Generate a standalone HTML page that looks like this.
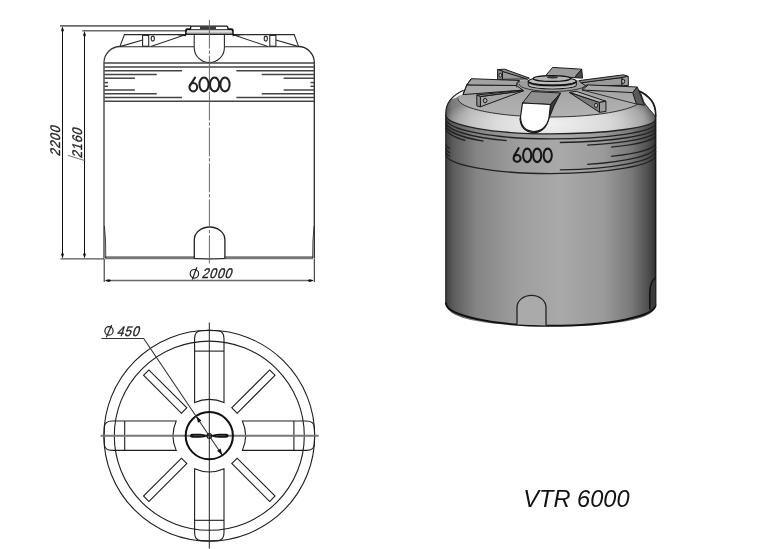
<!DOCTYPE html>
<html><head><meta charset="utf-8">
<style>
html,body{margin:0;padding:0;background:#fff;width:783px;height:549px;overflow:hidden}
svg{display:block}
text{font-family:"Liberation Sans",sans-serif}
</style></head>
<body>
<div style="will-change:transform;width:783px;height:549px">
<svg width="783" height="549" viewBox="0 0 783 549">
<defs>
 <linearGradient id="body" x1="445" y1="0" x2="656" y2="0" gradientUnits="userSpaceOnUse">
  <stop offset="0" stop-color="#3c3c3c"/>
  <stop offset="0.04" stop-color="#5c5c5c"/>
  <stop offset="0.15" stop-color="#858585"/>
  <stop offset="0.35" stop-color="#9e9e9e"/>
  <stop offset="0.55" stop-color="#a9a9a9"/>
  <stop offset="0.75" stop-color="#9a9a9a"/>
  <stop offset="0.88" stop-color="#7a7a7a"/>
  <stop offset="0.96" stop-color="#505050"/>
  <stop offset="1" stop-color="#333"/>
 </linearGradient>

 <linearGradient id="shbase" x1="445.8" y1="0" x2="655.6" y2="0" gradientUnits="userSpaceOnUse">
  <stop offset="0" stop-color="#555"/>
  <stop offset="0.03" stop-color="#7a7a7a"/>
  <stop offset="0.12" stop-color="#9a9a9a"/>
  <stop offset="0.5" stop-color="#b0b0b0"/>
  <stop offset="0.82" stop-color="#9a9a9a"/>
  <stop offset="0.94" stop-color="#7a7a7a"/>
  <stop offset="1" stop-color="#444"/>
 </linearGradient>
 <radialGradient id="shl" cx="552" cy="124" r="112" gradientUnits="userSpaceOnUse" gradientTransform="translate(552 124) scale(1 0.3) translate(-552 -124)">
  <stop offset="0" stop-color="#fff" stop-opacity="0.8"/>
  <stop offset="0.5" stop-color="#fff" stop-opacity="0.62"/>
  <stop offset="0.85" stop-color="#fff" stop-opacity="0.3"/>
  <stop offset="1" stop-color="#fff" stop-opacity="0.0"/>
 </radialGradient>
 <linearGradient id="topsurf" x1="0" y1="80" x2="0" y2="117" gradientUnits="userSpaceOnUse">
  <stop offset="0" stop-color="#9a9a9a"/>
  <stop offset="0.6" stop-color="#acacac"/>
  <stop offset="1" stop-color="#b2b2b2"/>
 </linearGradient>
</defs>

<!-- ============ FRONT ELEVATION ============ -->
<g id="front" fill="none" stroke="#2a2a2a" stroke-width="1.1">
 <!-- dimension lines -->
 <line x1="60" y1="25.9" x2="191" y2="25.9" stroke="#6a6a6a" stroke-width="1.6"/>
 <line x1="82.2" y1="30.7" x2="186.5" y2="30.7" stroke="#6a6a6a" stroke-width="1.6"/>
 <line x1="62.5" y1="28" x2="62.5" y2="256" stroke="#111" stroke-width="1"/>
 <line x1="84.5" y1="33" x2="84.5" y2="256" stroke="#111" stroke-width="1"/>
 <line x1="60.5" y1="258.9" x2="104" y2="258.9" stroke="#555" stroke-width="1.4"/>
 <line x1="104.2" y1="259" x2="104.2" y2="282" stroke="#222" stroke-width="1"/>
 <line x1="314.3" y1="259" x2="314.3" y2="282" stroke="#222" stroke-width="1"/>
 <line x1="106" y1="280.5" x2="312.5" y2="280.5" stroke="#6a6a6a" stroke-width="1.5"/>
 <!-- tank walls -->
 <path d="M104 258.6 V62.5 A16.2 16 0 0 1 120.2 46.5" stroke="#3a3a3a" stroke-width="1.3"/>
 <path d="M314.3 258.6 V62.5 A16 16 0 0 0 298.3 46.5" stroke-width="1.3"/>
 <line x1="120.2" y1="46.8" x2="194" y2="46.8"/>
 <line x1="224.5" y1="46.8" x2="298.3" y2="46.8"/>
 <!-- shoulders -->
 <path d="M119.9 46.6 L124.4 34.6 H186.5"/>
 <path d="M298.6 46.6 L294.2 34.6 H232.5"/>
 <path d="M119.9 46.6 L142.6 40"/>
 <path d="M150.8 46.4 L186 34.6"/>
 <path d="M298.6 46.6 L275.9 40"/>
 <path d="M267.8 46.4 L232.5 34.6"/>
 <rect x="142.6" y="35.4" width="6.1" height="10.8"/>
 <rect x="269.8" y="35.4" width="6.1" height="10.8"/>
 <ellipse cx="152.8" cy="38.6" rx="1.6" ry="2.5"/>
 <ellipse cx="265.8" cy="38.6" rx="1.6" ry="2.5"/>
 <!-- lid -->
 <path d="M186 35 V30.5 Q186 29.3 187.5 29.3 H231.3 Q232.8 29.3 232.8 30.5 V35" fill="#fff" stroke="#111" stroke-width="1.9"/>
 <line x1="186.5" y1="32.3" x2="232.3" y2="32.3" stroke="#c4c4c4" stroke-width="1.8"/>
 <line x1="185.5" y1="34.2" x2="233.3" y2="34.2" stroke="#222" stroke-width="1.4"/>
 <path d="M190.6 29.3 V27.2 Q190.6 26.2 191.8 26.2 H226.4 Q227.6 26.2 227.8 27.4 L228 29.3" fill="#fff" stroke="#111" stroke-width="1.3"/>
 <rect x="200" y="26.6" width="16" height="2.5" fill="#3a3a3a" stroke="none"/>
 <path d="M177 35.3 L186 34.4 L186 36.2 Z" fill="#222" stroke="none"/>
 <path d="M241.6 35.3 L232.6 34.4 L232.6 36.2 Z" fill="#222" stroke="none"/>
 <!-- manhole dome -->
 <path d="M194.2 34.8 V47.5 A15 15 0 0 0 224.4 47.5 V34.8"/>
 <!-- band lines -->
 <g stroke="#444" stroke-width="1.5">
  <line x1="104.2" y1="63.0" x2="314.3" y2="63.0"/>
  <line x1="104.2" y1="67.0" x2="314.3" y2="67.0"/>
  <line x1="104.2" y1="70.8" x2="182.1" y2="70.8"/>
  <line x1="236.4" y1="70.8" x2="314.3" y2="70.8"/>
  <line x1="104.2" y1="74.6" x2="156.8" y2="74.6"/>
  <line x1="261.7" y1="74.6" x2="314.3" y2="74.6"/>
  <line x1="104.2" y1="78.2" x2="134.9" y2="78.2"/>
  <line x1="283.6" y1="78.2" x2="314.3" y2="78.2"/>
  <line x1="104.2" y1="82.6" x2="108" y2="82.6"/>
  <line x1="310.5" y1="82.6" x2="314.3" y2="82.6"/>
  <line x1="104.2" y1="86.3" x2="108" y2="86.3"/>
  <line x1="310.5" y1="86.3" x2="314.3" y2="86.3"/>
  <line x1="104.2" y1="90.0" x2="134.9" y2="90.0"/>
  <line x1="283.6" y1="90.0" x2="314.3" y2="90.0"/>
  <line x1="104.2" y1="93.7" x2="156.8" y2="93.7"/>
  <line x1="261.7" y1="93.7" x2="314.3" y2="93.7"/>
  <line x1="104.2" y1="97.5" x2="182.1" y2="97.5"/>
  <line x1="236.4" y1="97.5" x2="314.3" y2="97.5"/>
  <line x1="104.2" y1="101.3" x2="314.3" y2="101.3"/>
 </g>
 <!-- base -->
 <line x1="105" y1="257.8" x2="313" y2="257.8" stroke="#777" stroke-width="3"/>
 <path d="M104.4 226 Q106 240 105.8 258" stroke-width="0.9"/>
 <path d="M314.1 226 Q312.5 240 312.7 258" stroke-width="0.9"/>
 <!-- bottom arch -->
 <path d="M194.3 258.5 V239.8 A15.3 12.8 0 0 1 224.9 239.8 V258.5" fill="#fff" stroke="#222" stroke-width="1.3"/>
 <path d="M194.3 258.5 Q209.6 259.5 224.9 258.5" stroke="#222" stroke-width="1"/>
 <!-- centerline -->
 <line x1="209.4" y1="19.8" x2="209.4" y2="263.5" stroke="#6a6a6a" stroke-width="1" stroke-dasharray="28.9 1.8 3.4 1.8"/>
</g>
<!-- arrows -->
<g fill="#111">
 <path d="M62.5 26.3 L61.1 30.5 L62.5 32.6 L63.9 30.5 Z"/>
 <path d="M84.5 31 L83.1 35.2 L84.5 37.3 L85.9 35.2 Z"/>
 <path d="M62.5 258.5 L61.1 254.3 L62.5 252.2 L63.9 254.3 Z"/>
 <path d="M84.5 258.5 L83.1 254.3 L84.5 252.2 L85.9 254.3 Z"/>
 <path d="M104.7 280.6 L109 279.2 L111.2 280.6 L109 282 Z"/>
 <path d="M313.9 280.6 L309.6 279.2 L307.4 280.6 L309.6 282 Z"/>
</g>
<!-- 6000 in front -->
<g fill="none" stroke="#222" stroke-width="2.05">
 <ellipse cx="204" cy="84.4" rx="4.6" ry="6.95"/>
 <ellipse cx="214.6" cy="84.4" rx="4.6" ry="6.95"/>
 <ellipse cx="225" cy="84.4" rx="4.6" ry="6.95"/>
 <ellipse cx="193.3" cy="87.2" rx="3.85" ry="4.15"/>
 <path d="M195 77.6 L189.9 85.6" stroke-linecap="round"/>
</g>
<!-- dimension texts -->
<g fill="#222" stroke="#222" stroke-width="0.35" font-size="14" letter-spacing="0.9">
 <text transform="translate(59.8 156.4) rotate(-90) skewX(-17) scale(0.88 1)">2200</text>
 <text transform="translate(81.6 158.6) rotate(-90) skewX(-17) scale(0.88 1)">2160</text>
 <text transform="translate(201.4 278) skewX(-17) scale(0.88 1)">2000</text>
 <text transform="translate(116.4 335.6) skewX(-17) scale(0.88 1)">450</text>
</g>
<line x1="68" y1="155.4" x2="85.4" y2="160.8" stroke="#555" stroke-width="0.8"/>
<!-- diameter symbols -->
<g fill="none" stroke="#222" stroke-width="1.2">
 <ellipse cx="194.4" cy="273.8" rx="4.2" ry="4.3"/>
 <line x1="192.3" y1="279.5" x2="196.9" y2="267.3"/>
 <ellipse cx="109" cy="330.9" rx="4.1" ry="4.3"/>
 <line x1="106.3" y1="337.2" x2="111.7" y2="325.1"/>
</g>

<!-- ============ PLAN VIEW ============ -->
<g id="plan" fill="none" stroke="#1e1e1e" stroke-width="1.1">
 <circle cx="209.3" cy="435.7" r="105.4"/>
 <ellipse cx="209.3" cy="435.7" rx="95" ry="94.6"/>
 <g id="rib">
  <path d="M194.6 402.6 V338.6 Q194.6 330.9 201 330.75 A105.3 105.3 0 0 1 217.6 330.75 Q224 330.9 224 338.6 V402.6 A36.3 36.3 0 0 0 194.6 402.6 Z"/>
  <line x1="194.6" y1="351.1" x2="224" y2="351.1"/>
 </g>
 <use href="#rib" transform="rotate(90 209.3 435.7)"/>
 <use href="#rib" transform="rotate(180 209.3 435.7)"/>
 <use href="#rib" transform="rotate(270 209.3 435.7)"/>
 <g id="slot"><rect x="205.5" y="346.5" width="7.6" height="53.6" transform="rotate(45 209.3 435.7)"/></g>
 <rect x="205.5" y="346.5" width="7.6" height="53.6" transform="rotate(135 209.3 435.7)"/>
 <rect x="205.5" y="346.5" width="7.6" height="53.6" transform="rotate(225 209.3 435.7)"/>
 <rect x="205.5" y="346.5" width="7.6" height="53.6" transform="rotate(315 209.3 435.7)"/>
 <line x1="209.3" y1="322.5" x2="209.3" y2="548.5" stroke="#222" stroke-width="1"/>
 <line x1="100.6" y1="435.8" x2="318.7" y2="435.8" stroke="#777" stroke-width="1.9"/>
 <circle cx="209.3" cy="435.7" r="23.6" stroke="#111" stroke-width="2"/>
 <path d="M101.5 338.5 H143.7 L222.3 455.3" stroke="#333" stroke-width="1.1"/>
</g>
<g fill="#111">
 <path d="M190 435.7 C190 433.6 192 433.7 196 433.7 C201 433.7 204 434 206 435 L209.3 435.5 L209.3 435.9 L206 436.4 C204 437.4 201 437.7 196 437.7 C192 437.7 190 437.8 190 435.7 Z"/>
 <path d="M228.6 435.7 C228.6 433.6 226.6 433.7 222.6 433.7 C217.6 433.7 214.6 434 212.6 435 L209.3 435.5 L209.3 435.9 L212.6 436.4 C214.6 437.4 217.6 437.7 222.6 437.7 C226.6 437.7 228.6 437.8 228.6 435.7 Z"/>
 <path d="M222.3 455.3 L217.2 450.8 L220.6 448.6 Z"/>
 <path d="M196.3 416.1 L201.4 420.6 L198 422.8 Z"/>
</g>
<circle cx="209.3" cy="435.9" r="2.3" fill="none" stroke="#1a1a1a" stroke-width="1.1"/>
<line x1="193" y1="435.7" x2="202.5" y2="435.7" stroke="#505050" stroke-width="0.9"/>
<line x1="216" y1="435.7" x2="225.5" y2="435.7" stroke="#505050" stroke-width="0.9"/>
<!-- ============ 3D ============ -->
<g id="iso">
 <!-- silhouette body -->
 <path d="M445.8 303 V113 C445.8 106 449 97 463.5 90.3 A95 17.6 0 0 1 637.5 90.3 C652 97 655.6 106 655.6 113 V305 Q655.6 326 550.5 326 Q445.8 326 445.8 303 Z" fill="url(#body)"/>
 <!-- shoulder shading -->
 <path d="M445.8 113 C445.8 106 449 97 463.5 90.3 A95 17.6 0 0 1 637.5 90.3 C652 97 655.6 106 655.6 113 V119 A105.1 14.9 0 0 1 550.5 133.9 A104.7 19.1 0 0 1 445.8 114.8 Z" fill="url(#shbase)"/>
 <path d="M445.8 113 C445.8 106 449 97 463.5 90.3 A95 17.6 0 0 1 637.5 90.3 C652 97 655.6 106 655.6 113 V119 A105.1 14.9 0 0 1 550.5 133.9 A104.7 19.1 0 0 1 445.8 114.8 Z" fill="url(#shl)"/>
 <!-- top cone surface -->
 <path d="M463.5 90.3 A95 17.6 0 0 1 637.5 90.3 L642 98.5 A92 18.5 0 0 1 458 98.5 Z" fill="url(#topsurf)"/>
 <path d="M458 98.5 A92 18.5 0 0 0 642 98.5" fill="none" stroke="#333" stroke-width="1"/>
 <!-- rim highlight crescents -->
 <path d="M451.8 99 C455 94.5 459 92 463.5 90.6 L463 94.6 C460.5 95.2 458 96.2 455.5 98 Z" fill="#f4f4f4"/>
 <path d="M639.5 91 C649 94.5 655.6 103 655.9 117 C652 112 647.5 107.5 643.8 102 L640.8 93.5 Z" fill="#f6f6f6" stroke="#222" stroke-width="0.9"/>
 <g fill="none" stroke="#222" stroke-width="1.35">
  <path d="M445.8 115.1 A104.7 18.8 0 0 0 550.5 133.9 A105.1 14.9 0 0 0 655.6 119.0"/>
  <path d="M445.8 118.4 A104.7 20.5 0 0 0 550.5 138.9 A105.1 15.6 0 0 0 655.6 123.3"/>
  <path d="M445.8 121.7 A104.7 20.9 0 0 0 506.7 140.7"/>
  <path d="M559.8 142.5 A105.1 15.6 0 0 0 655.6 127.0"/>
  <path d="M445.8 124.4 A104.7 21.8 0 0 0 483.5 141.2"/>
  <path d="M587.2 145.2 A105.1 15.2 0 0 0 655.6 131.0"/>
  <path d="M445.8 127.7 A104.7 22.1 0 0 0 465.3 140.5"/>
  <path d="M611.1 147.1 A105.1 14.8 0 0 0 655.6 135.0"/>
  <path d="M445.8 144.6 A104.7 14.8 0 0 0 450.0 148.7"/>
  <path d="M611.1 156.4 A105.1 16.4 0 0 0 655.6 143.0"/>
  <path d="M445.8 147.9 A104.7 17.7 0 0 0 450.0 152.9"/>
  <path d="M587.2 164.4 A105.1 18.6 0 0 0 655.6 147.0"/>
  <path d="M445.8 151.2 A104.7 18.8 0 0 0 450.0 156.5"/>
  <path d="M559.8 169.9 A105.1 19.0 0 0 0 655.6 151.0"/>
  <path d="M445.8 153.9 A104.7 19.7 0 0 0 550.5 173.6 A105.1 18.6 0 0 0 655.6 155.0"/>
 </g>
 <!-- outlines -->
 <path d="M445.8 303 V113 C445.8 106 449 97 463.5 90.3" fill="none" stroke="#222" stroke-width="1.2"/>
 <path d="M637.5 90.3 C652 97 655.6 106 655.6 113 V305" fill="none" stroke="#1a1a1a" stroke-width="1.6"/>
 <path d="M445.8 302.8 A104.7 23 0 0 0 550.5 325.8 A105.1 21 0 0 0 655.6 304.8" fill="none" stroke="#111" stroke-width="2"/>
 <!-- bottom arch -->
 <path d="M517 324.6 V307.5 A14.5 12.2 0 0 1 546 307.5 V325.4" fill="#aaa" stroke="#222" stroke-width="1.3"/>
 <path d="M649.8 309.5 V292 Q650 282 655.4 278 V306 Q653 308.5 649.8 309.5 Z" fill="#3c3c3c" stroke="none"/>
 <path d="M649.8 309.5 V292 Q650 282 655.4 278" fill="none" stroke="#111" stroke-width="1.5"/>
 <!-- ribs & lid -->
 <g stroke="#1a1a1a" stroke-width="1" stroke-linejoin="round">
  <!-- boss ring -->
  <path d="M519 84 A34 7.5 0 0 0 587 84" fill="none" stroke="#333"/>
  <!-- channel edges on top -->
  <path d="M582.2 90 L636.3 104" fill="none" stroke="#333"/>
  <!-- left rib -->
  <path d="M466.8 84.9 L516.5 85.5 L522.8 90.1 L463 94.6 Z" fill="#ababab"/>
  <path d="M471.3 78.7 L519.5 80.5 Q516 82 516.5 85.5 L466.8 84.9 Z" fill="#a2a2a2"/>
  <path d="M471.3 78.7 L466.8 84.9 L463 94.6" fill="none"/>
  <!-- back-left bracket -->
  <path d="M502.5 71 L527.5 79 L502.5 79.3 Z" fill="#9a9a9a"/>
  <path d="M497.6 69.6 L504.7 69.2 L529.3 78.1 L527.5 79.2 L502.5 71.5 Z" fill="#8a8a8a"/>
  <path d="M497.6 69.6 L502.5 71 L502.5 79.3 L497.6 79.4 Z" fill="#8a8a8a"/>
  <ellipse cx="500.3" cy="75.2" rx="1.5" ry="2" fill="#b0b0b0" stroke-width="1"/>
  <!-- back rib -->
  <path d="M552.6 67.4 L581.7 69.2 L574.5 77.7 L545.9 75.4 Z" fill="#9c9c9c"/>
  <path d="M581.7 69.2 L582.6 78.1 L574.5 77.7 Z" fill="#4a4a4a"/>
  <!-- back-right bracket -->
  <path d="M581 82.5 L622 77.5 L622 85.3 L586 86 Z" fill="#9a9a9a"/>
  <path d="M579.2 80.6 L623.6 74.8 L628.2 76.3 L622 77.5 L581 82.8 Z" fill="#8a8a8a"/>
  <path d="M622 77.5 L628.2 76.3 L628.4 85.5 L622 85.3 Z" fill="#a0a0a0"/>
  <ellipse cx="623.2" cy="81.3" rx="1.6" ry="2.1" fill="#b0b0b0" stroke-width="1"/>
  <!-- lid -->
  <path d="M516.8 87.5 Q516 83 520 81.5" fill="none" stroke="#333"/>
  <path d="M588 84.5 Q582 86.5 582.2 90" fill="none" stroke="#333"/>
  <path d="M528.3 81.3 V85 A24 4 0 0 0 576.3 85 V81.3 Z" fill="#9c9c9c" stroke-width="1.1"/>
  <path d="M528.8 84.6 A23.6 3.6 0 0 0 575.8 84.6" fill="none" stroke="#c8c8c8" stroke-width="1"/>
  <ellipse cx="552.3" cy="81.3" rx="24" ry="4" fill="#bdbdbd" stroke-width="1.3"/>
  <path d="M528.6 82 A24 4 0 0 0 576 82" fill="none" stroke="#111" stroke-width="1.8"/>
  <ellipse cx="551.9" cy="78.5" rx="18.6" ry="2.9" fill="#b4b4b4" stroke="#111" stroke-width="1.3"/>
  <ellipse cx="552.5" cy="77.2" rx="5.5" ry="1.2" fill="#333" stroke="none"/>
  <!-- far right rib -->
  <path d="M588.3 84.9 L637.3 87 L632.7 92.6 L582.2 90 Z" fill="#a8a8a8"/>
  <path d="M637.3 87 L644.5 105.3 L636.3 103.8 L632.7 92.6 Z" fill="#5a5a5a"/>
  <!-- front-left bracket -->
  <path d="M480.4 96.6 L523.5 90.8 L480.4 106.8 Z" fill="#a5a5a5"/>
  <path d="M476.8 95 L522.8 90.1 L523.5 90.8 L480.4 96.6 Z" fill="#8a8a8a"/>
  <path d="M476.8 95 L480.4 96.6 L480.4 106.8 L476.8 105.8 Z" fill="#909090"/>
  <ellipse cx="485.1" cy="100.6" rx="1.8" ry="2.2" fill="#b0b0b0" stroke-width="1"/>
  <!-- front-right bracket -->
  <path d="M569.5 92.5 L599.5 102.4 L599.5 112.3 Z" fill="#7a7a7a"/>
  <path d="M569.5 92.3 L576.2 91.3 L605.9 101.2 L599.5 102.4 Z" fill="#b5b5b5"/>
  <path d="M599.5 102.4 L605.9 101.2 L606 111.4 L599.5 112.3 Z" fill="#9c9c9c"/>
  <ellipse cx="596" cy="105.3" rx="1.5" ry="2.1" fill="#c8c8c8" stroke-width="1"/>
  <!-- front rib -->
  <path d="M531.5 91.5 L560.6 93 L550.5 104.5 L522.5 103 Z" fill="#8f8f8f"/>
  <path d="M560.6 93 L550.5 104.5 L549 118.5 L554 106 Z" fill="#3a3a3a"/>
  <path d="M520 118 Q520.5 131.5 534 132.8 Q545 132 548.5 119" fill="none" stroke="#111" stroke-width="1.2"/>
  <path d="M522.5 103 L550.5 104.5 L549 118 Q546 131 534 131.5 Q521 131 520.5 117 Z" fill="#fff" stroke-width="1.2"/>
 </g>
 <!-- 6000 -->
 <g fill="none" stroke="#151515" stroke-width="2.05">
  <ellipse cx="527.2" cy="155.35" rx="4.1" ry="6.75"/>
  <ellipse cx="537.2" cy="155.35" rx="4.1" ry="6.75"/>
  <ellipse cx="547.7" cy="155.35" rx="4.1" ry="6.75"/>
  <ellipse cx="517.1" cy="158.4" rx="3.5" ry="3.3"/>
  <path d="M518.6 148.2 L514 156" stroke-linecap="round"/>
 </g>
</g>
<text x="523.3" y="506.5" font-size="23.6" font-style="italic" fill="#111">VTR 6000</text>
</svg>
</div>
</body></html>
